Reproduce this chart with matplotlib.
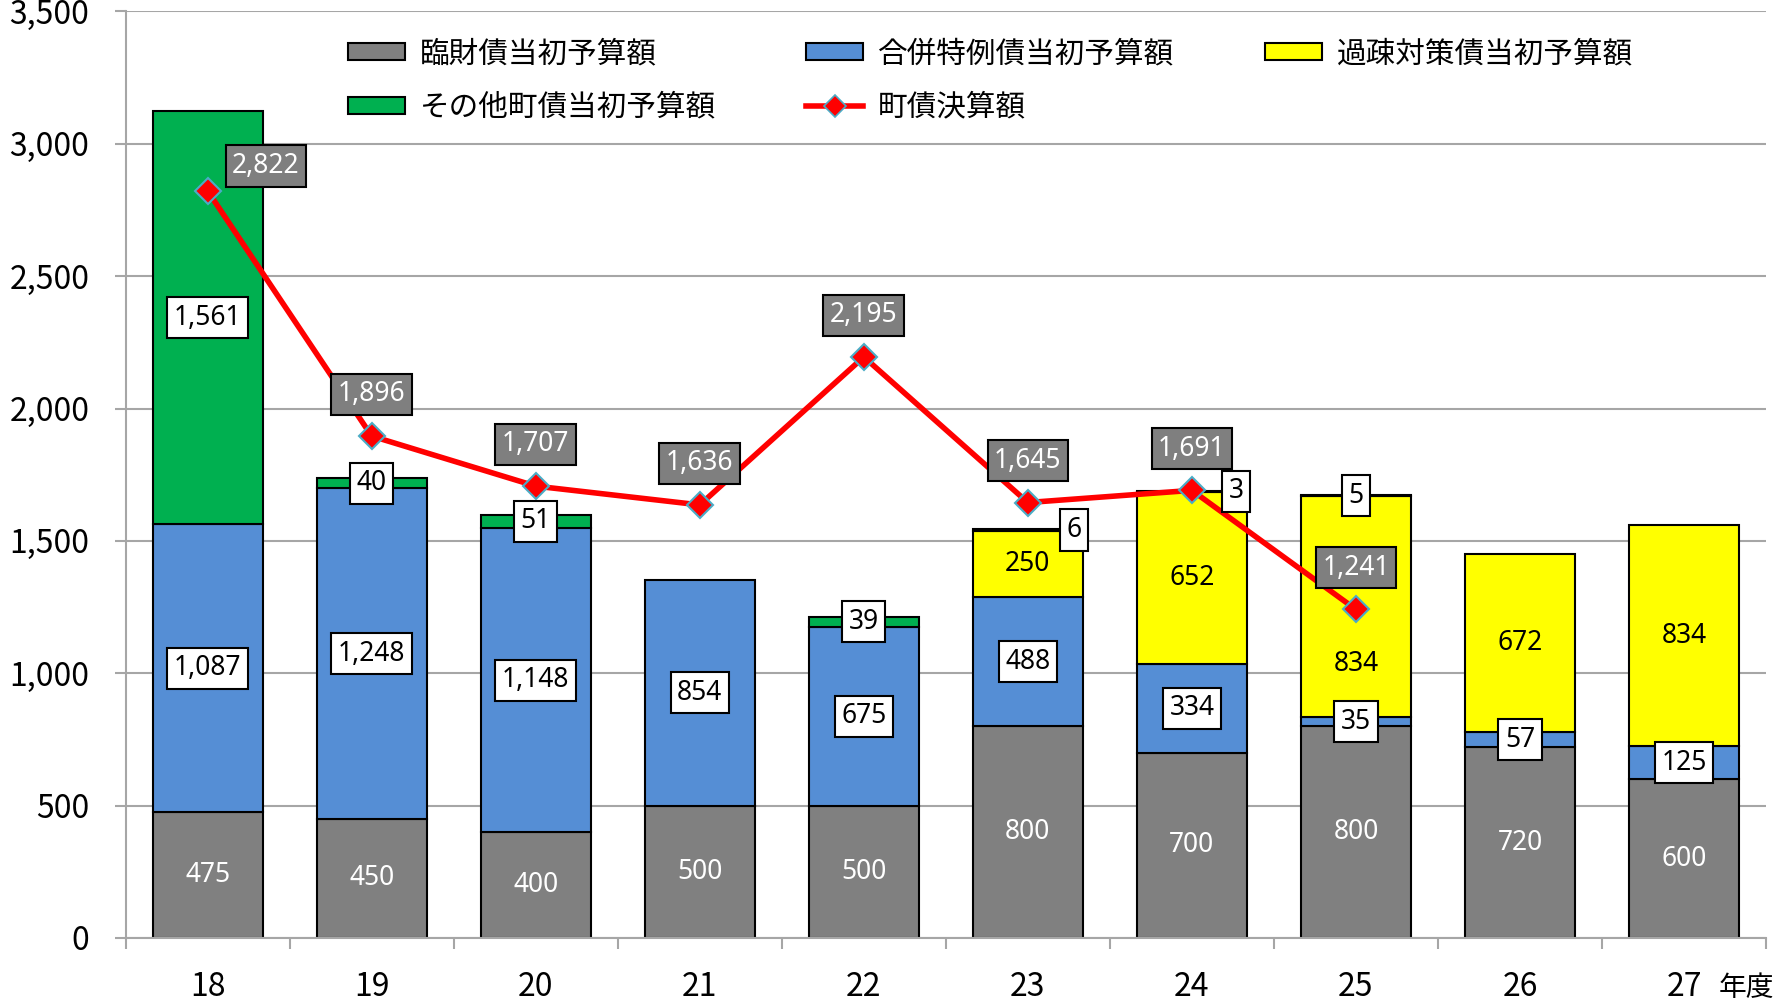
import matplotlib
matplotlib.use('Agg')
import matplotlib.pyplot as plt
from matplotlib.patches import Patch
from matplotlib.lines import Line2D
import numpy as np

# data (年度 = fiscal year)
years = ['18', '19', '20', '21', '22', '23', '24', '25', '26', '27']
rinzai = [475, 450, 400, 500, 500, 800, 700, 800, 720, 600]      # 臨財債
gappei = [1087, 1248, 1148, 854, 675, 488, 334, 35, 57, 125]     # 合併特例債
kaso = [0, 0, 0, 0, 0, 250, 652, 834, 672, 834]                  # 過疎対策債
sonota = [1561, 40, 51, 0, 39, 6, 3, 5, 0, 0]                    # その他町債
kessan = [2822, 1896, 1707, 1636, 2195, 1645, 1691, 1241]        # 町債決算額 (18-25)

names = ['臨財債当初予算額', '合併特例債当初予算額', '過疎対策債当初予算額',
         'その他町債当初予算額', '町債決算額']
colors = ['#808080', '#558ED5', '#FFFF00', '#00B050']

plt.rcParams['font.family'] = ['Liberation Sans Narrow', 'Noto Sans CJK JP', 'DejaVu Sans']
jp = ['Noto Sans CJK JP', 'DejaVu Sans']
numfont = ['Noto Sans', 'DejaVu Sans']

fig = plt.figure(figsize=(17.89, 10.06), dpi=100)
ax = fig.add_axes([0.0702, 0.0676, 0.917, 0.921])

x = np.arange(len(years))
width = 0.67
series = [rinzai, gappei, kaso, sonota]
# label style per series: (text colour, boxed)
styles = [('white', False), ('black', True), ('black', False), ('black', True)]
# hand-moved labels, offsets in points: (series index, bar index) -> (dx, dy)
moved = {(2, 7): (0, -41), (3, 5): (33, 0), (3, 6): (32, 0)}

bottom = np.zeros(len(years))
for si, (vals, c) in enumerate(zip(series, colors)):
    vals = np.array(vals, dtype=float)
    nz = vals > 0
    ax.bar(x[nz], vals[nz], width, bottom=bottom[nz], color=c,
           edgecolor='black', linewidth=1.5, zorder=2)
    tc, boxed = styles[si]
    for i in x[nz]:
        dx, dy = moved.get((si, i), (0, 0))
        bb = dict(boxstyle='square,pad=0.25', fc='white', ec='black', lw=1.5) if boxed else None
        ax.annotate(f'{int(vals[i]):,}', (i, bottom[i] + vals[i] / 2),
                    xytext=(dx, dy), textcoords='offset points',
                    ha='center', va='center', fontsize=19, color=tc,
                    family=numfont, bbox=bb, zorder=6)
    bottom += vals

# 町債決算額 line
xl = x[:len(kessan)]
ax.plot(xl, kessan, color='red', lw=4, marker='D', ms=13, mfc='red',
        mec='#4BACC6', mew=1.5, zorder=4)
for i, v in zip(xl, kessan):
    off = (42, 18) if i == 0 else (0, 30)
    ax.annotate(f'{v:,}', (i, v), xytext=off, textcoords='offset points',
                ha='center', va='center', fontsize=19, color='white', family=numfont,
                bbox=dict(boxstyle='square,pad=0.25', fc='#7F7F7F', ec='black', lw=1.5),
                zorder=7)

# axes styling
ax.set_xlim(-0.5, len(years) - 0.5)
ax.set_ylim(0, 3500)
ax.set_yticks(range(0, 3501, 500))
ax.set_yticklabels([f'{v:,}' for v in range(0, 3501, 500)])
ax.yaxis.grid(True, color='#A6A6A6', lw=1.5, zorder=0)
ax.set_axisbelow(True)
ax.set_xticks(np.arange(-0.5, len(years), 1))
ax.set_xticks(x, minor=True)
ax.set_xticklabels(years, minor=True)
ax.tick_params(axis='x', which='major', length=8, width=1.5, color='#A6A6A6', labelbottom=False)
ax.tick_params(axis='x', which='minor', length=0, pad=24, labelsize=23)
ax.tick_params(axis='y', length=8, width=1.5, color='#A6A6A6', pad=18, labelsize=23)
for s in ['top', 'right']:
    ax.spines[s].set_visible(False)
for s in ['left', 'bottom']:
    ax.spines[s].set_color('#A6A6A6')
    ax.spines[s].set_linewidth(1.5)

fig.text(0.976, 0.018, '年度', ha='center', va='center', fontsize=20, family=jp)

# legend, order arranged so rows read left to right
h = [Patch(fc=c, ec='black', lw=1.5) for c in colors]
h.append(Line2D([], [], color='red', lw=4, marker='D', ms=11, mfc='red',
                mec='#4BACC6', mew=1.2))
order = [0, 3, 1, 4, 2]
ax.legend([h[k] for k in order], [names[k] for k in order], ncol=3,
          loc='upper left', bbox_to_anchor=(0.1945, 0.962), bbox_transform=fig.transFigure,
          frameon=False, prop={'family': jp, 'size': 21.3}, handlelength=1.93,
          handleheight=0.52, handletextpad=0.5, columnspacing=3.05,
          labelspacing=0.76, borderpad=0, borderaxespad=0)

fig.savefig('out.png', dpi=100)
